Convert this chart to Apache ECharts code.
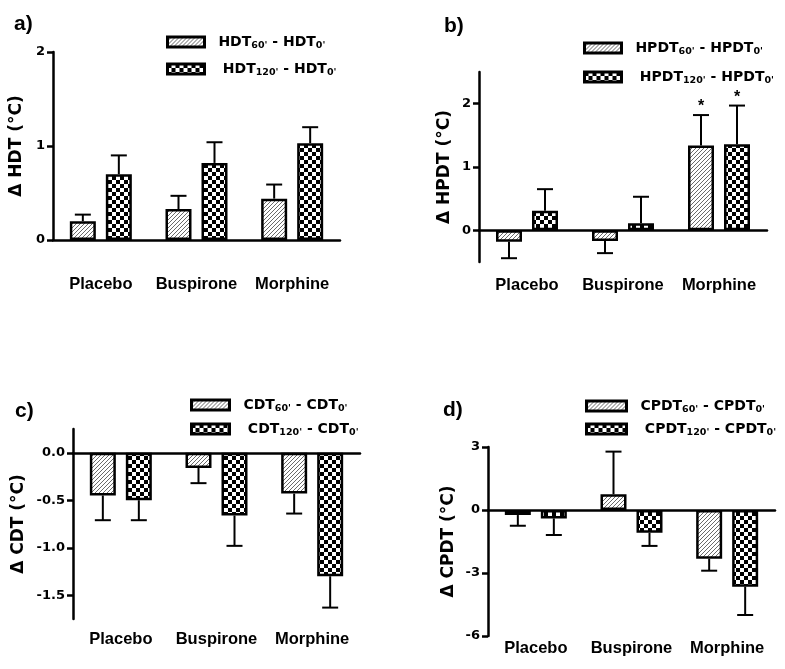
<!DOCTYPE html>
<html>
<head>
<meta charset="utf-8">
<script src="https://cdn.jsdelivr.net/npm/echarts@6/dist/echarts.min.js"></script>
<style>
html,body{margin:0;padding:0;background:#fff;}
#chart{width:785px;height:669px;}
</style>
</head>
<body>
<div id="chart"></div>
<script>
// ---- data ----
const categories = ['Placebo', 'Buspirone', 'Morphine'];

const hdt60 = [0.20, 0.33, 0.44];
const hdt60Err = [0.07, 0.14, 0.15];
const hdt120 = [0.70, 0.82, 1.03];
const hdt120Err = [0.20, 0.22, 0.17];

const hpdt60 = [-0.18, -0.17, 1.34];
const hpdt60Err = [0.26, 0.19, 0.48];
const hpdt120 = [0.31, 0.11, 1.36];
const hpdt120Err = [0.34, 0.42, 0.61];
const hpdt60Star = [false, false, true];
const hpdt120Star = [false, false, true];

const cdt60 = [-0.45, -0.16, -0.43];
const cdt60Err = [0.26, 0.16, 0.21];
const cdt120 = [-0.50, -0.66, -1.30];
const cdt120Err = [0.21, 0.32, 0.33];

const cpdt60 = [-0.24, 0.75, -2.32];
const cpdt60Err = [0.51, 2.03, 0.57];
const cpdt120 = [-0.40, -1.08, -3.65];
const cpdt120Err = [0.79, 0.63, 1.35];

const ticksA = [0, 1, 2];
const ticksB = [0, 1, 2];
const ticksC = [0, -0.5, -1.0, -1.5];
const ticksD = [3, 0, -3, -6];

// ---- patterns ----
function hatchCanvas() {
  const c = document.createElement('canvas');
  c.width = 4; c.height = 4;
  const g = c.getContext('2d');
  g.fillStyle = '#fff'; g.fillRect(0, 0, 4, 4);
  g.strokeStyle = '#6a6a6a'; g.lineWidth = 1;
  g.beginPath();
  g.moveTo(0, 4); g.lineTo(4, 0);
  g.moveTo(-1, 1); g.lineTo(1, -1);
  g.moveTo(3, 5); g.lineTo(5, 3);
  g.stroke();
  return c;
}
function checkerCanvas() {
  const c = document.createElement('canvas');
  c.width = 8; c.height = 8;
  const g = c.getContext('2d');
  g.fillStyle = '#fff'; g.fillRect(0, 0, 8, 8);
  g.fillStyle = '#000';
  g.fillRect(0, 0, 4, 4); g.fillRect(4, 4, 4, 4);
  return c;
}
const hatchPat = { image: hatchCanvas(), repeat: 'repeat' };
const checkPat = { image: checkerCanvas(), repeat: 'repeat' };

const FONT = 'Liberation Sans, Arial, sans-serif';
const WFONT = 'DejaVu Sans, Verdana, sans-serif';
const BAR_W = 26, GAP = 10;
const OFF = (BAR_W + GAP) / 2;

const grids = [
  { left: 53, top: 52, width: 287, height: 188 },
  { left: 479, top: 72, width: 288, height: 190 },
  { left: 73, top: 429, width: 287, height: 190 },
  { left: 488, top: 447, width: 287, height: 189 }
];

const yDefs = [
  { min: 0, max: 2, ticks: ticksA, name: 'Δ HDT (°C)', gap: 28, fmt: v => String(v) },
  { min: -0.5, max: 2.5, ticks: ticksB, name: 'Δ HPDT (°C)', gap: 26, fmt: v => String(v) },
  { min: -1.75, max: 0.25, ticks: ticksC, name: 'Δ CDT (°C)', gap: 46, fmt: v => v.toFixed(1) },
  { min: -6, max: 3, ticks: ticksD, name: 'Δ CPDT (°C)', gap: 31, fmt: v => String(v) }
];

const yAxis = yDefs.map((d, i) => ({
  type: 'value', gridIndex: i, min: d.min, max: d.max,
  name: d.name, nameLocation: 'middle', nameGap: d.gap,
  nameTextStyle: { fontFamily: WFONT, fontSize: 17, fontWeight: 'bold', color: '#000' },
  axisLine: { show: true, lineStyle: { color: '#000', width: 2.5 } },
  axisTick: { show: true, length: 6, lineStyle: { color: '#000', width: 2.5 }, customValues: d.ticks },
  axisLabel: { color: '#000', fontFamily: WFONT, fontWeight: 'bold', fontSize: 13, margin: 8,
    customValues: d.ticks, formatter: d.fmt },
  splitLine: { show: false }
}));

const labelMargins = [36, 15, 12, 4];
const xAxis = [];
// line axes (index 0..3)
for (let i = 0; i < 4; i++) {
  xAxis.push({
    type: 'category', gridIndex: i, data: categories,
    axisLine: { show: true, onZero: true, lineStyle: { color: '#000', width: 2.5 } },
    axisTick: { show: false },
    axisLabel: { show: i === 0, interval: 0, color: '#000', fontFamily: FONT, fontWeight: 'bold', fontSize: 16.5, margin: labelMargins[i] }
  });
}
// label axes for b,c,d (index 4..6)
for (let i = 1; i < 4; i++) {
  xAxis.push({
    type: 'category', gridIndex: i, data: categories, position: 'bottom',
    axisLine: { show: false, onZero: false },
    axisTick: { show: false },
    axisLabel: { show: true, interval: 0, color: '#000', fontFamily: FONT, fontWeight: 'bold', fontSize: 16.5, margin: labelMargins[i] }
  });
}

const panels = [
  { v60: hdt60, e60: hdt60Err, v120: hdt120, e120: hdt120Err, n60: 'HDT60', n120: 'HDT120', base: 'HDT' },
  { v60: hpdt60, e60: hpdt60Err, v120: hpdt120, e120: hpdt120Err, n60: 'HPDT60', n120: 'HPDT120', base: 'HPDT', s60: hpdt60Star, s120: hpdt120Star },
  { v60: cdt60, e60: cdt60Err, v120: cdt120, e120: cdt120Err, n60: 'CDT60', n120: 'CDT120', base: 'CDT' },
  { v60: cpdt60, e60: cpdt60Err, v120: cpdt120, e120: cpdt120Err, n60: 'CPDT60', n120: 'CPDT120', base: 'CPDT' }
];

function errSeries(i, vals, errs, offset, stars) {
  return {
    type: 'custom', xAxisIndex: i, yAxisIndex: i, z: 5,
    data: vals.map((v, k) => [k, v, errs[k], stars && stars[k] ? 1 : 0]),
    encode: { x: 0, y: 1 },
    renderItem: function (params, api) {
      const k = api.value(0), v = api.value(1), e = api.value(2), st = api.value(3);
      const dir = v >= 0 ? 1 : -1;
      const p0 = api.coord([k, v]);
      const p1 = api.coord([k, v + dir * e]);
      const cx = p0[0] + offset;
      const style = { stroke: '#000', lineWidth: 2 };
      const children = [
        { type: 'line', shape: { x1: cx, y1: p0[1], x2: cx, y2: p1[1] }, style: style },
        { type: 'line', shape: { x1: cx - 8, y1: p1[1], x2: cx + 8, y2: p1[1] }, style: style }
      ];
      if (st) {
        children.push({ type: 'text', style: { text: '*', x: cx, y: p1[1] - 8, align: 'center', verticalAlign: 'middle',
          fontSize: 16, fontWeight: 'bold', fontFamily: FONT, fill: '#000' } });
      }
      return { type: 'group', children: children };
    }
  };
}

const series = [];
panels.forEach((p, i) => {
  series.push({
    name: p.n60, type: 'bar', xAxisIndex: i, yAxisIndex: i, data: p.v60,
    barWidth: BAR_W, barGap: (GAP / BAR_W * 100) + '%',
    itemStyle: { color: hatchPat, borderColor: '#000', borderWidth: 2.5 }
  });
  series.push({
    name: p.n120, type: 'bar', xAxisIndex: i, yAxisIndex: i, data: p.v120,
    barWidth: BAR_W, barGap: (GAP / BAR_W * 100) + '%',
    itemStyle: { color: checkPat, borderColor: '#000', borderWidth: 2.5 }
  });
  series.push(errSeries(i, p.v60, p.e60, -OFF, p.s60));
  series.push(errSeries(i, p.v120, p.e120, OFF, p.s120));
});

const legendPos = [
  { left: 166, top: 33 },
  { left: 583, top: 39 },
  { left: 190, top: 396 },
  { left: 585, top: 397 }
];
const legendGap = [9, 11, 6, 5];
const legendW = [37, 37, 38, 40];
const legendRich = {
  m: { fontFamily: WFONT, fontWeight: 'bold', fontSize: 14, color: '#000', lineHeight: 18 },
  s: { fontFamily: WFONT, fontWeight: 'bold', fontSize: 9.5, color: '#000', lineHeight: 10, padding: [8, 0, 0, 0] }
};
const legend = panels.map((p, i) => ({
  orient: 'vertical', left: legendPos[i].left, top: legendPos[i].top, padding: 0,
  icon: 'rect',
  itemWidth: legendW[i], itemHeight: 10, itemGap: legendGap[i],
  data: [p.n60, p.n120],
  selectedMode: false,
  itemStyle: { borderColor: '#000', borderWidth: 3 },
  formatter: function (name) {
    const is60 = name === p.n60;
    return (is60 ? '  ' : '   ') + '{m|' + p.base + '}{s|' + (is60 ? "60'" : "120'") + '}{m| - ' + p.base + '}{s|0\'}';
  },
  textStyle: { rich: legendRich, fontFamily: WFONT, fontSize: 14 }
}));

const panelLabels = [
  { t: 'a)', x: 14, y: 14 },
  { t: 'b)', x: 444, y: 16 },
  { t: 'c)', x: 15, y: 401 },
  { t: 'd)', x: 443, y: 400 }
];
const graphic = panelLabels.map(l => ({
  type: 'text', left: l.x, top: l.y,
  style: { text: l.t, fontFamily: FONT, fontWeight: 'bold', fontSize: 21, fill: '#000' }
}));

const chart = echarts.init(document.getElementById('chart'));
chart.setOption({
  backgroundColor: '#fff',
  animation: false,
  grid: grids,
  xAxis: xAxis,
  yAxis: yAxis,
  legend: legend,
  series: series,
  graphic: graphic
});
</script>
</body>
</html>
